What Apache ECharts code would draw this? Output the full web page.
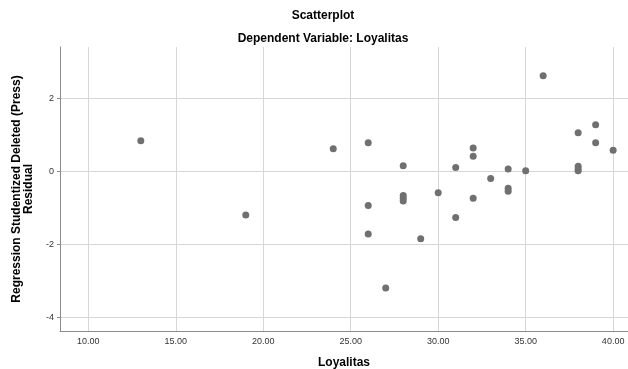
<!DOCTYPE html>
<html>
<head>
<meta charset="utf-8">
<script src="https://cdn.jsdelivr.net/npm/echarts@6/dist/echarts.min.js"></script>
<style>
html,body{margin:0;padding:0;background:#fff;}
#chart{width:628px;height:369px;}
</style>
</head>
<body>
<div id="chart"></div>
<script>
// Data
const loyalitas = [13, 19, 24, 26, 26, 26, 27, 28, 28, 28, 28, 29, 30, 31, 31, 32, 32, 32, 33, 34, 34, 34, 35, 36, 38, 38, 38, 38, 39, 39, 40];
const residual  = [0.83, -1.20, 0.61, 0.78, -0.94, -1.72, -3.20, 0.15, -0.67, -0.74, -0.82, -1.85, -0.59, 0.10, -1.27, 0.63, 0.41, -0.74, -0.20, 0.06, -0.47, -0.55, 0.01, 2.61, 1.05, 0.13, 0.06, 0.01, 1.27, 0.78, 0.57];
const xTicks = [10, 15, 20, 25, 30, 35, 40];
const yTicks = [-4, -2, 0, 2];

const points = loyalitas.map((x, i) => [x, residual[i]]);
const font = 'Liberation Sans, Arial, sans-serif';

const chart = echarts.init(document.getElementById('chart'), null, {renderer: 'canvas'});
chart.setOption({
  animation: false,
  backgroundColor: '#ffffff',
  title: [
    {text: 'Scatterplot', left: 318, top: 5, textAlign: 'center',
     textStyle: {fontFamily: font, fontSize: 12, fontWeight: 'bold', color: '#000'}},
    {text: 'Dependent Variable: Loyalitas', left: 318, top: 28, textAlign: 'center',
     textStyle: {fontFamily: font, fontSize: 12, fontWeight: 'bold', color: '#000'}}
  ],
  grid: {left: 60, right: 0, top: 47, bottom: 38, containLabel: false, outerBoundsMode: 'none'},
  xAxis: {
    type: 'value', min: 8.38, max: 40.85,
    name: 'Loyalitas', nameLocation: 'middle', nameGap: 26,
    nameTextStyle: {fontFamily: font, fontSize: 12, fontWeight: 'bold', color: '#000'},
    axisLine: {show: true, onZero: false, lineStyle: {color: '#8c8c8c', width: 1}},
    axisTick: {show: false, customValues: xTicks},
    axisLabel: {customValues: xTicks, formatter: v => v.toFixed(2), fontFamily: font, fontSize: 9, color: '#333', margin: 6},
    splitLine: {show: true, lineStyle: {color: '#d6d6d6', width: 1}}
  },
  yAxis: {
    type: 'value', min: -4.38, max: 3.4,
    name: 'Regression Studentized Deleted (Press)\nResidual', nameLocation: 'middle', nameGap: 22, nameRotate: 90,
    nameTextStyle: {fontFamily: font, fontSize: 12, fontWeight: 'bold', color: '#000', lineHeight: 12, align: 'center'},
    axisLine: {show: true, onZero: false, lineStyle: {color: '#8c8c8c', width: 1}},
    axisTick: {show: true, length: 3, customValues: yTicks, lineStyle: {color: '#8c8c8c'}},
    axisLabel: {customValues: yTicks, fontFamily: font, fontSize: 9, color: '#333', margin: 6},
    splitLine: {show: true, lineStyle: {color: '#d6d6d6', width: 1}}
  },
  series: [{
    type: 'scatter',
    data: points,
    symbolSize: 7,
    itemStyle: {color: '#707070', opacity: 1}
  }]
});
</script>
</body>
</html>
